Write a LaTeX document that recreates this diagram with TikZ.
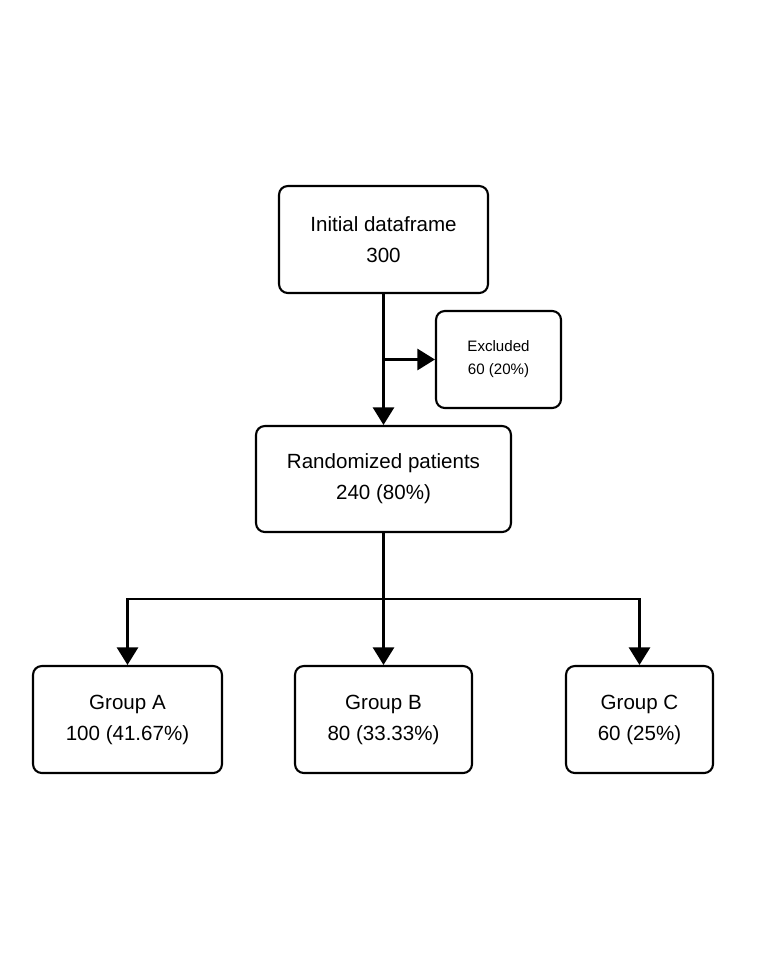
\documentclass[tikz,border=0pt]{standalone}
\usepackage{fontspec}
\setmainfont{Liberation Sans}
\usetikzlibrary{arrows.meta, positioning}

\begin{document}
\begin{tikzpicture}[x=0.02cm, y=-0.02cm,
  box/.style={draw, line width=1.2pt, rounded corners=5pt, align=center, inner sep=0pt,
    font=\fontsize{11.7}{17.6}\selectfont},
  smallbox/.style={box, font=\fontsize{8.6}{13}\selectfont},
  arr/.style={line width=1.4pt, -{Triangle[length=10pt, width=12pt]}},
  lin/.style={line width=1.4pt}]
  \useasboundingbox (0,0) rectangle (768,960);

  % Top boxes
  \node[box, minimum width=4.18cm, minimum height=2.14cm] (init) at (383.5,239.5) {Initial dataframe\\300};
  \node[smallbox, minimum width=2.5cm, minimum height=1.94cm] (excl) at (498.5,359.5) {Excluded\\60 (20\%)};
  \node[box, minimum width=5.1cm, minimum height=2.12cm] (rand) at (383.5,479) {Randomized patients\\240 (80\%)};

  % Groups
  \node[box, minimum width=3.78cm, minimum height=2.14cm] (grpA) at (127.5,719.5) {Group A\\100 (41.67\%)};
  \node[box, minimum width=3.54cm, minimum height=2.14cm] (grpB) at (383.5,719.5) {Group B\\80 (33.33\%)};
  \node[box, minimum width=2.94cm, minimum height=2.14cm] (grpC) at (639.5,719.5) {Group C\\60 (25\%)};

  % Connectors
  \coordinate (split) at (init.south |- excl.west);
  \coordinate (fork) at (383.5,599);
  \draw[arr] (init.south) -- (rand.north);
  \draw[arr] (split) -- (excl.west);
  \draw[lin] (rand.south) -- (fork);
  \draw[arr] (fork) -| (grpA.north);
  \draw[arr] (fork) -- (grpB.north);
  \draw[arr] (fork) -| (grpC.north);
\end{tikzpicture}
\end{document}
